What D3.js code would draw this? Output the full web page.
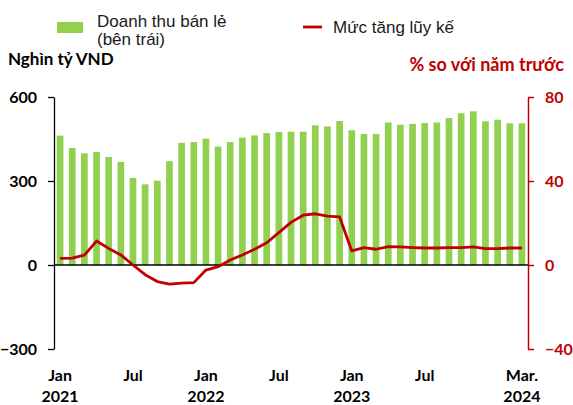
<!DOCTYPE html>
<html>
<head>
<meta charset="utf-8">
<script src="https://cdn.jsdelivr.net/npm/d3@7"></script>
<style>
  body { margin: 0; background: #fff; }
  svg { display: block; }
</style>
</head>
<body>
<svg id="chart"></svg>
<script>
const width = 573;
const height = 405;

// monthly, Jan 2021 .. Mar 2024
const months = d3.range(39).map(i => i);
const retail = [462, 418, 399, 404, 386, 368, 311, 288, 301, 371, 436, 439,
    451, 423, 439, 455, 463, 471, 475, 476, 476, 499, 495, 514,
    481, 468, 468, 509, 501, 504, 507, 509, 525, 542, 549, 513,
    519, 506, 506];
const growth = [3.2, 3.3, 4.7, 11.4, 7.9, 4.8, 0, -4.6, -7.9, -9.1, -8.6, -8.4,
    -2.4, -0.8, 2.4, 4.8, 7.5, 10.6, 15.4, 20.3, 23.7, 24.4, 23.3, 22.9,
    6.7, 8.3, 7.5, 8.7, 8.6, 8.3, 8.1, 8.1, 8.3, 8.3, 8.6, 7.8,
    7.8, 8.1, 8.1];
const xLabels = [
    { i: 0, a: 'Jan', b: '2021' },
    { i: 6, a: 'Jul', b: '' },
    { i: 12, a: 'Jan', b: '2022' },
    { i: 18, a: 'Jul', b: '' },
    { i: 24, a: 'Jan', b: '2023' },
    { i: 30, a: 'Jul', b: '' },
    { i: 38, a: 'Mar.', b: '2024' },
];
const leftTicks = [-300, 0, 300, 600];
const rightTicks = [-40, 0, 40, 80];

const green = '#92d050';
const red = '#c00000';
const labelFont = 'Lato, "Noto Sans", sans-serif';

const svg = d3.select('svg#chart').attr('width', width).attr('height', height);

const x = d3.scaleBand().domain(months).range([54, 528])
    .paddingInner(0.45).paddingOuter(0.225);
const yL = d3.scaleLinear().domain([-300, 600]).range([349, 97]);
const yR = d3.scaleLinear().domain([-40, 80]).range([349, 97]);

// bars
svg.append('g').selectAll('rect')
    .data(retail)
    .join('rect')
    .attr('x', (d, i) => x(i))
    .attr('y', d => yL(d))
    .attr('width', x.bandwidth())
    .attr('height', d => yL(0) - yL(d))
    .attr('fill', green);

// zero line
svg.append('line')
    .attr('x1', 54).attr('x2', 528)
    .attr('y1', yL(0)).attr('y2', yL(0))
    .attr('stroke', '#000').attr('stroke-width', 1.3);

// growth line
const line = d3.line()
    .x((d, i) => x(i) + x.bandwidth() / 2)
    .y(d => yR(d));
svg.append('path')
    .datum(growth)
    .attr('d', line)
    .attr('fill', 'none')
    .attr('stroke', red)
    .attr('stroke-width', 2.8)
    .attr('stroke-linejoin', 'round');

// left axis
const axL = svg.append('g')
    .attr('transform', 'translate(54,0)')
    .call(d3.axisLeft(yL).tickValues(leftTicks).tickSize(6).tickPadding(11).tickSizeOuter(0));
axL.select('.domain').attr('stroke', '#000').attr('stroke-width', 1.3);
axL.selectAll('.tick line').attr('stroke', '#000').attr('stroke-width', 1.3);
axL.selectAll('.tick text')
    .attr('fill', '#000')
    .style('font', 'bold 16px ' + labelFont);

// right axis
const axR = svg.append('g')
    .attr('transform', 'translate(528,0)')
    .call(d3.axisRight(yR).tickValues(rightTicks).tickSize(6).tickPadding(11).tickSizeOuter(0));
axR.select('.domain').attr('stroke', red).attr('stroke-width', 1.5);
axR.selectAll('.tick line').attr('stroke', red).attr('stroke-width', 1.5);
axR.selectAll('.tick text')
    .attr('fill', red)
    .style('font', 'bold 16px ' + labelFont);

// x labels
const xl = svg.append('g').selectAll('text')
    .data(xLabels)
    .join('text')
    .attr('x', d => x(d.i) + x.bandwidth() / 2)
    .attr('text-anchor', 'middle')
    .style('font', 'bold 16px ' + labelFont)
    .attr('fill', '#000');
xl.append('tspan').attr('x', d => x(d.i) + x.bandwidth() / 2).attr('y', 381).text(d => d.a);
xl.append('tspan').attr('x', d => x(d.i) + x.bandwidth() / 2).attr('y', 402).text(d => d.b);

// axis titles
svg.append('text')
    .attr('x', 8).attr('y', 65)
    .style('font', 'bold 17px ' + labelFont)
    .attr('fill', '#000')
    .text('Nghìn tỷ VND');
svg.append('text')
    .attr('x', 564).attr('y', 71)
    .attr('text-anchor', 'end')
    .style('font', 'bold 18px ' + labelFont)
    .attr('fill', red)
    .text('% so với năm trước');

// legend
const legFont = '17px "Liberation Sans", Arial, sans-serif';
svg.append('rect')
    .attr('x', 57).attr('y', 22).attr('width', 26).attr('height', 11)
    .attr('fill', green);
svg.append('text')
    .attr('x', 97).attr('y', 27)
    .style('font', legFont).attr('fill', '#1a1a1a')
    .text('Doanh thu bán lẻ');
svg.append('text')
    .attr('x', 97).attr('y', 45)
    .style('font', legFont).attr('fill', '#1a1a1a')
    .text('(bên trái)');
svg.append('line')
    .attr('x1', 303).attr('x2', 322).attr('y1', 27).attr('y2', 27)
    .attr('stroke', red).attr('stroke-width', 2.8);
svg.append('text')
    .attr('x', 333).attr('y', 33)
    .style('font', legFont).attr('fill', '#1a1a1a')
    .text('Mức tăng lũy kế');
</script>
</body>
</html>
